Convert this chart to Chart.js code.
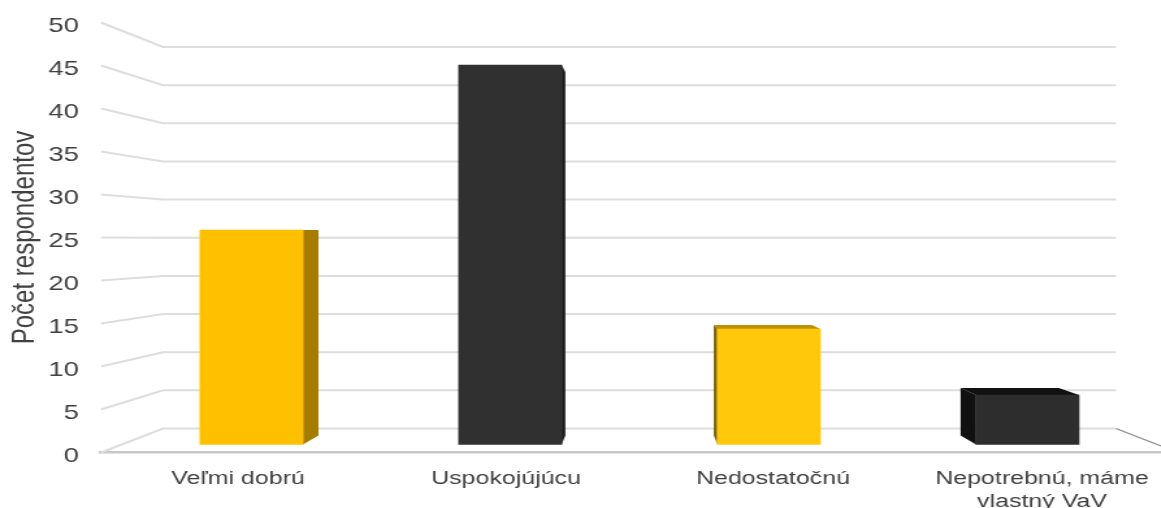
<!DOCTYPE html>
<html><head><meta charset="utf-8">
<style>
html,body{margin:0;padding:0;background:#fff;overflow:hidden;width:1161px;height:508px}
#wrap{width:1161px;height:508px;overflow:hidden;filter:blur(0.35px)}
canvas{display:block;transform-origin:0 0;transform:scaleX(1.3)}
</style>
<script src="https://cdn.jsdelivr.net/npm/chart.js@4"></script>
</head><body><div id="wrap"><canvas id="c"></canvas></div>
<script>
const categories = ["Veľmi dobrú", "Uspokojújúcu", "Nedostatočnú", ["Nepotrebnú, máme", "vlastný VaV"]];
const values = [26, 46, 14, 6];
const barColors = ["#FFC000", "#303030", "#FFC80A", "#2D2D2D"];
const sideColors = ["#A67C00", "#1A1A1A", "#7F6000", "#111111"];
const topColors = ["#BF9000", "#1A1A1A", "#BF9000", "#111111"];
const axisTitle = "Počet respondentov";
const labelSlots = [-0.052, 0.984, 2.016, 3.056];

const S = 1.3, W = 1161 / S, H = 508;
const canvas = document.getElementById('c');
canvas.width = W; canvas.height = H;
canvas.style.width = W + 'px'; canvas.style.height = H + 'px';

function quad(ctx, pts, color) {
  ctx.fillStyle = color; ctx.beginPath();
  pts.forEach((p, i) => i ? ctx.lineTo(p[0], p[1]) : ctx.moveTo(p[0], p[1]));
  ctx.closePath(); ctx.fill();
}
const depthPlugin = {
  id: 'depth',
  beforeDatasetsDraw(chart) {
    const { ctx, scales } = chart, front = scales.y, wall = scales.wall;
    const xFront = 101 / S, xBack = 163 / S, xEnd = 1116 / S;
    ctx.save();
    ctx.lineCap = 'butt';
    front.ticks.forEach(t => {
      const a = front.getPixelForValue(t.value), b = wall.getPixelForValue(t.value);
      ctx.strokeStyle = '#DDDDDD'; ctx.lineWidth = 2;
      ctx.beginPath(); ctx.moveTo(xFront, a); ctx.lineTo(xBack, b); ctx.lineTo(xEnd, b); ctx.stroke();
    });
    const y0 = wall.getPixelForValue(0);
    ctx.strokeStyle = '#8C8C8C'; ctx.lineWidth = 1.3;
    ctx.beginPath(); ctx.moveTo(xEnd, y0); ctx.lineTo(1161 / S, y0 + 17.5); ctx.stroke();

    const meta = chart.getDatasetMeta(0), back = scales.barBack, vx = 640 / S, k = 0.046;
    meta.data.forEach((bar, i) => {
      const p = bar.getProps(['x', 'y', 'base', 'width'], true);
      const l = p.x - p.width / 2, r = p.x + p.width / 2;
      const bl = l + (vx - l) * k, br = r + (vx - r) * k;
      const bt = back.getPixelForValue(values[i]), bb = back.getPixelForValue(0);
      if (bt < p.y) quad(ctx, [[l, p.y], [bl, bt], [br, bt], [r, p.y]], topColors[i]);
      if (br > r) quad(ctx, [[r, p.y], [br, bt], [br, bb], [r, p.base]], sideColors[i]);
      if (bl < l) quad(ctx, [[l, p.y], [bl, bt], [bl, bb], [l, p.base]], sideColors[i]);
    });
    ctx.restore();
  }
};

new Chart(canvas, {
  type: 'bar',
  data: {
    datasets: [{
      data: values.map((v, i) => ({ x: i, y: v })),
      backgroundColor: barColors,
      borderWidth: 0,
      barThickness: 103 / S,
      yAxisID: 'bars'
    }]
  },
  plugins: [depthPlugin],
  options: {
    responsive: false,
    animation: false,
    devicePixelRatio: 1,
    layout: { padding: { top: 22.5, left: 0, right: 0, bottom: 0 } },
    plugins: { legend: { display: false }, tooltip: { enabled: false } },
    scales: {
      x: {
        type: 'linear', axis: 'x', offset: false, min: -0.5818, max: 3.5156,
        afterBuildTicks: s => { s.ticks = labelSlots.map(value => ({ value })); },
        afterFit: s => { s.height = 55.5; s.paddingLeft = 0; s.paddingRight = 0; },
        grid: { display: false, drawTicks: false },
        border: { display: true, color: '#C8C8C8', width: 2.5 },
        ticks: {
          autoSkip: false, maxRotation: 0, minRotation: 0, padding: 14.5,
          color: '#404040',
          font: { family: '"Liberation Sans"', size: 19.2, lineHeight: 1.22 },
          callback: (v, i) => categories[i]
        }
      },
      y: {
        type: 'linear', axis: 'y', position: 'left', min: 0, max: 50,
        afterFit: s => { s.width = 101 / S; s.paddingTop = 0; s.paddingBottom = 0; },
        grid: { display: false, drawTicks: false },
        border: { display: false },
        ticks: {
          stepSize: 5, padding: 17, labelOffset: 3.5, color: '#404040',
          font: { family: '"Liberation Sans"', size: 21 }
        },
        title: {
          display: true, text: axisTitle, color: '#404040', padding: { top: 5, bottom: 0 },
          font: { family: '"Liberation Sans"', size: 24, lineHeight: 1.2 }
        }
      },
      bars: { type: 'linear', axis: 'y', position: 'left', display: false, min: -0.97, max: 51.15 },
      wall: { type: 'linear', axis: 'y', position: 'left', display: false, min: -3.145, max: 53.21 },
      barBack: { type: 'linear', axis: 'y', position: 'left', display: false, min: -2.152, max: 52.278 }
    }
  }
});
</script></body></html>
